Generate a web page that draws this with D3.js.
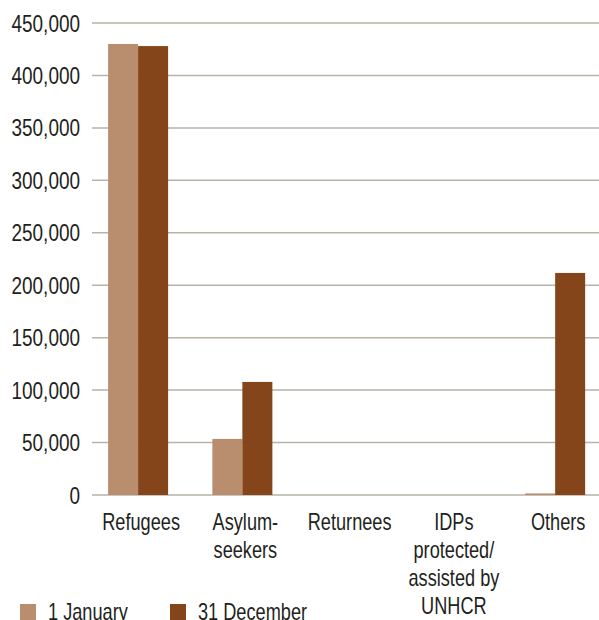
<!DOCTYPE html>
<html><head><meta charset="utf-8">
<script src="https://cdn.jsdelivr.net/npm/d3@7"></script>
<style>body{margin:0;background:#fff}svg{display:block}text{font-family:"Liberation Sans",Arial,sans-serif;fill:#231f20}</style>
</head><body><svg id="c" width="599" height="620"></svg>
<script>
const categories = [["Refugees"],["Asylum-","seekers"],["Returnees"],["IDPs","protected/","assisted by","UNHCR"],["Others"]];
const catKeys = ["Refugees","Asylum-seekers","Returnees","IDPs","Others"];
const series = ["1 January","31 December"];
const jan = [430000, 53500, 0, 0, 1500];
const dec = [428000, 107800, 0, 0, 211700];
const yTicks = [0,50000,100000,150000,200000,250000,300000,350000,400000,450000];
const colors = ["#b88e6e","#834519"];

const SX = 0.79; // horizontal condensing of text
const svg = d3.select("#c");
const y = d3.scaleLinear().domain([0,450000]).range([495,23]);
const x0 = d3.scaleBand().domain(catKeys).range([86,607.25]).paddingInner(0.4245).paddingOuter(0.212);
const x1 = d3.scaleBand().domain(series).range([0,x0.bandwidth()]);

function ctext(g, x, yy, size, anchor, str){
  return g.append("text").attr("transform",`translate(${x},${yy}) scale(${SX},1)`)
    .attr("text-anchor",anchor).attr("font-size",size).text(str);
}

// grid
svg.append("g").selectAll("line").data(yTicks).join("line")
  .attr("x1",92).attr("x2",599).attr("y1",d=>y(d)).attr("y2",d=>y(d))
  .attr("stroke","#b9b2a6").attr("stroke-width",1.5);
// y labels
const fmt = d3.format(",");
const yl = svg.append("g");
yTicks.forEach(d=>{
  ctext(yl, 80, y(d)+8.5, 24, "end", fmt(d));
});

// bars
const vals = [jan, dec];
series.forEach((s,si)=>{
  svg.append("g").selectAll("rect").data(catKeys).join("rect")
    .attr("x",(c)=>x0(c)+x1(s)).attr("width",x1.bandwidth())
    .attr("y",(c,i)=>y(vals[si][i])).attr("height",(c,i)=>y(0)-y(vals[si][i]))
    .attr("fill",colors[si]);
});

// category labels
const cl = svg.append("g");
catKeys.forEach((c,i)=>{
  const cx = x0(c)+x0.bandwidth()/2+3;
  categories[i].forEach((line,li)=>{
    ctext(cl, cx, 530+li*28, 23, "middle", line);
  });
});

// legend
const leg = svg.append("g");
const lx = [20,170];
series.forEach((s,i)=>{
  leg.append("rect").attr("x",lx[i]).attr("y",604).attr("width",16).attr("height",16).attr("fill",colors[i]);
  ctext(leg, lx[i]+28, 620, 23, "start", s);
});
</script></body></html>
